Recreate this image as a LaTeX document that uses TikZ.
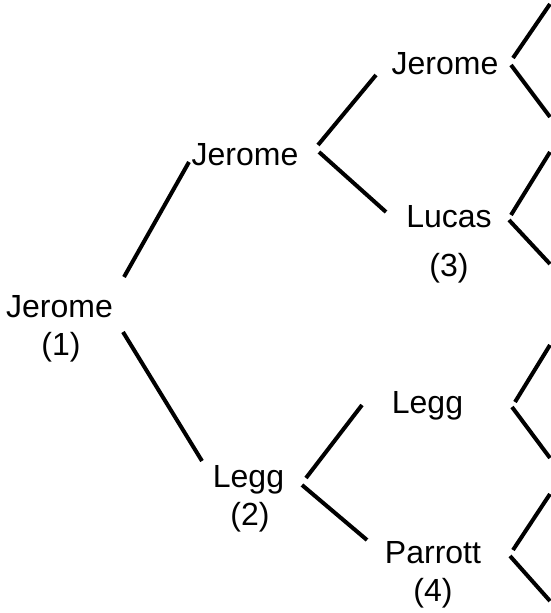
\documentclass[tikz,border=0pt]{standalone}
\usepackage{fontspec}
\setmainfont{Liberation Sans}
\begin{document}
\begin{tikzpicture}[x=1pt,y=-1pt,
  lbl/.style={anchor=base,inner sep=0pt,font=\fontsize{32}{38}\selectfont},
  arm/.style={line width=4pt,black}]
\useasboundingbox[fill=white] (0,0) rectangle (550,613);
% names
\node[lbl] (root) at (59.5,317) {Jerome};
\node[lbl] (rootn) at (61,355) {(1)};
\node[lbl] (jer2) at (245,165) {Jerome};
\node[lbl] (legg2) at (248.5,487) {Legg};
\node[lbl] (legg2n) at (250,525) {(2)};
\node[lbl] (jer3) at (445,74) {Jerome};
\node[lbl] (lucas) at (449,227) {Lucas};
\node[lbl] (lucasn) at (449,276) {(3)};
\node[lbl] (legg3) at (427.5,413) {Legg};
\node[lbl] (parr) at (433,563) {Parrott};
\node[lbl] (parrn) at (433,601) {(4)};
% connector end points
\coordinate (a1) at (124,277); \coordinate (a2) at (189,162);
\coordinate (b1) at (123,332); \coordinate (b2) at (202,461);
\coordinate (c1) at (318,145); \coordinate (c2) at (376,75);
\coordinate (d1) at (319,152); \coordinate (d2) at (386,212);
\coordinate (e1) at (306,478); \coordinate (e2) at (362,405);
\coordinate (f1) at (302,485); \coordinate (f2) at (367,540);
\coordinate (g1) at (513,58);  \coordinate (g2) at (550,4);
\coordinate (h1) at (511,65);  \coordinate (h2) at (550,117);
\coordinate (i1) at (511,215); \coordinate (i2) at (550,152);
\coordinate (j1) at (509,220); \coordinate (j2) at (550,264);
\coordinate (k1) at (515,402); \coordinate (k2) at (550,345);
\coordinate (l1) at (512,407); \coordinate (l2) at (550,458);
\coordinate (m1) at (513,550); \coordinate (m2) at (550,494);
\coordinate (n1) at (510,556); \coordinate (n2) at (550,601);
\draw[arm] (a1) -- (a2);
\draw[arm] (b1) -- (b2);
\draw[arm] (c1) -- (c2);
\draw[arm] (d1) -- (d2);
\draw[arm] (e1) -- (e2);
\draw[arm] (f1) -- (f2);
\draw[arm] (g1) -- (g2);
\draw[arm] (h1) -- (h2);
\draw[arm] (i1) -- (i2);
\draw[arm] (j1) -- (j2);
\draw[arm] (k1) -- (k2);
\draw[arm] (l1) -- (l2);
\draw[arm] (m1) -- (m2);
\draw[arm] (n1) -- (n2);
\end{tikzpicture}
\end{document}
